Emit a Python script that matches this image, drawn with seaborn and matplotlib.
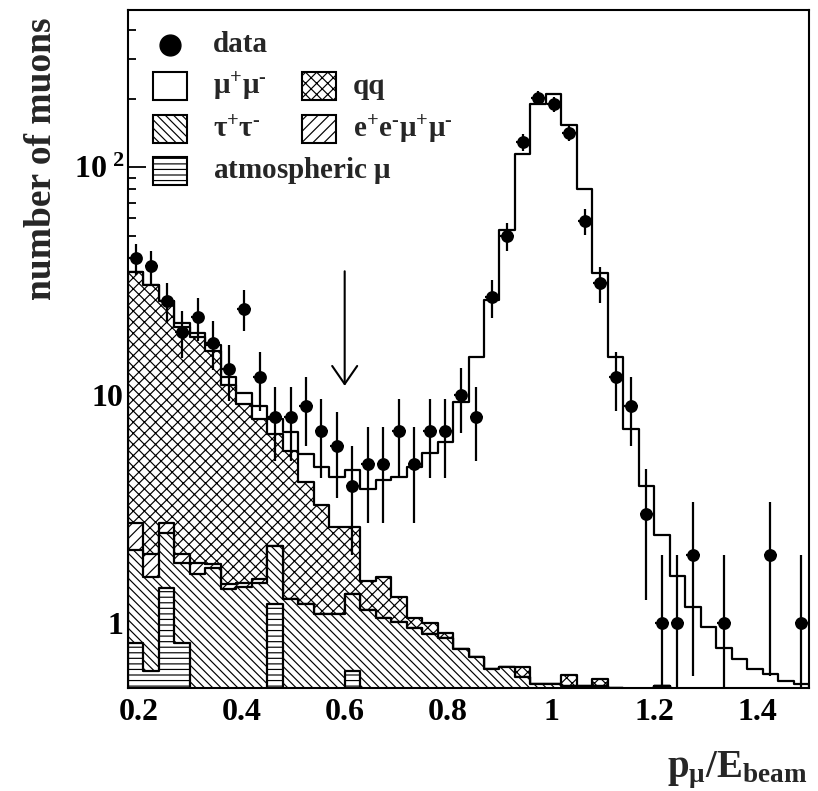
import numpy as np
import pandas as pd
import matplotlib
matplotlib.use("Agg")
import matplotlib.pyplot as plt
import seaborn as sns
from matplotlib.patches import Rectangle
from matplotlib.ticker import LogLocator, MultipleLocator, NullFormatter, FixedLocator

# ---------------- data ----------------
x_min, x_max, bin_w = 0.18, 1.50, 0.03
bin_centers = np.round(np.linspace(0.195, 1.485, 44), 3)

data_counts = [40, 37, 26, 19, 22, 17, 13, 24, 12, 8,
               8, 9, 7, 6, 4, 5, 5, 7, 5, 7,
               7, 10, 8, 27, 50, 129, 202, 189, 142, 58,
               31, 12, 9, 3, 1, 1, 2, 0, 1, 0,
               0, 2, 0, 1]

atmospheric = [0.82, 0.62, 1.43, 0.82, 0, 0, 0, 0, 0, 1.22,
               0, 0, 0, 0, 0.62, 0, 0, 0, 0, 0,
               0, 0, 0, 0, 0, 0, 0, 0, 0, 0,
               0, 0, 0, 0, 0.53, 0, 0, 0, 0, 0,
               0, 0, 0, 0]

tautau = [1.28, 0.98, 1.06, 1.01, 1.64, 1.74, 1.41, 1.44, 1.50, 0.96,
          1.28, 1.21, 1.10, 1.10, 0.73, 1.14, 1.05, 1.01, 0.95, 0.90,
          0.86, 0.77, 0.71, 0.63, 0.64, 0.58, 0.54, 0.54, 0.53, 0.53,
          0.53, 0.52, 0, 0, 0, 0, 0, 0, 0, 0,
          0, 0, 0, 0]

eemumu = [0.64, 0.42, 0.25, 0.18, 0.19, 0.08, 0.08, 0.06, 0.07, 0,
          0, 0, 0, 0, 0, 0, 0, 0, 0, 0,
          0, 0, 0, 0, 0, 0, 0, 0, 0, 0,
          0, 0, 0, 0, 0, 0, 0, 0, 0, 0,
          0, 0, 0, 0]

qq = [32.0, 28.4, 23.1, 17.9, 16.1, 13.9, 9.6, 7.7, 6.3, 4.6,
      4.4, 2.95, 2.19, 1.54, 1.29, 0.40, 0.55, 0.29, 0.10, 0.10,
      0.05, 0, 0, 0, 0, 0.06, 0, 0, 0.06, 0,
      0.04, 0, 0, 0, 0, 0, 0, 0, 0, 0,
      0, 0, 0, 0]

mumu = [0, 0, 0, 0.8, 0.8, 0.9, 0.9, 1.0, 1.1, 1.1,
        1.25, 1.34, 1.56, 1.76, 2.06, 2.36, 2.64, 3.06, 3.8, 4.6,
        5.33, 8.58, 14.0, 25.5, 52.3, 113.4, 189.5, 208.5, 153.4, 80.2,
        33.8, 14.2, 7.14, 3.99, 1.90, 1.61, 1.18, 0.96, 0.78, 0.70,
        0.63, 0.60, 0.56, 0.54]

x_ticks = [0.2, 0.4, 0.6, 0.8, 1.0, 1.2, 1.4]
x_tick_labels = ["0.2", "0.4", "0.6", "0.8", "1", "1.2", "1.4"]
y_ticks = [1, 10, 100]
y_tick_labels = ["1", "10", r"$\mathbf{10}^{\ \mathbf{2}}$"]

# ---------------- style ----------------
sns.set_theme(style="ticks")
plt.rcParams.update({
    "font.family": ["Liberation Serif", "DejaVu Serif"],
    "font.weight": "bold",
    "mathtext.fontset": "custom",
    "mathtext.rm": "Liberation Serif",
    "mathtext.bf": "Liberation Serif:bold",
    "mathtext.it": "Liberation Serif:italic",
    "hatch.linewidth": 0.85,
    "hatch.color": "black",
    "axes.linewidth": 1.5,
    "axes.edgecolor": "black",
})

W, H = 818, 791
L, R, T, B = 128, 809, 10, 688
fig = plt.figure(figsize=(W / 100, H / 100), dpi=100)
ax = fig.add_axes([L / W, 1 - B / H, (R - L) / W, (B - T) / H])

# stacked cumulative layers (bottom to top)
c_atm = np.array(atmospheric)
c_tau = c_atm + np.array(tautau)
c_ee = c_tau + np.array(eemumu)
c_qq = c_ee + np.array(qq)
c_tot = c_qq + np.array(mumu)

layers = [(c_tot, None), (c_qq, "xxx"), (c_ee, "///"),
          (c_tau, "\\\\\\\\"), (c_atm, "---")]
for vals, hatch in layers:
    df = pd.DataFrame({"x": bin_centers, "w": vals})
    sns.histplot(data=df, x="x", weights="w", binwidth=bin_w,
                 binrange=(x_min, x_max), element="step",
                 fill=True, color="white", edgecolor="black", linewidth=1.6,
                 alpha=1, ax=ax)
    coll = ax.collections[-1]
    if hatch:
        coll.set_hatch(hatch)

ax.set_yscale("log")

# data points
dc = np.array(data_counts, dtype=float)
mask = dc > 0
ax.errorbar(bin_centers[mask], dc[mask], yerr=np.sqrt(dc[mask]), xerr=0.013,
            fmt="none", ecolor="black", elinewidth=1.6, zorder=4)
sns.scatterplot(x=bin_centers[mask], y=dc[mask], color="black", s=85,
                edgecolor="black", linewidth=0, zorder=5, ax=ax, legend=False)

# arrow at cut
ax.annotate("", xy=(0.6, 11.0), xytext=(0.6, 35.0),
            arrowprops=dict(arrowstyle="->,head_length=0.65,head_width=0.45",
                            lw=1.5, color="black", mutation_scale=20,
                            shrinkA=0, shrinkB=0))

# axes
ax.set_xlim(x_min, x_max)
ax.set_ylim(0.52, 490)
ax.xaxis.set_major_locator(FixedLocator(x_ticks))
ax.set_xticklabels(x_tick_labels)
ax.xaxis.set_minor_locator(MultipleLocator(0.05))
ax.yaxis.set_major_locator(FixedLocator(y_ticks))
ax.set_yticklabels(y_tick_labels)
ax.yaxis.set_minor_locator(LogLocator(base=10, subs=np.arange(2, 10)))
ax.yaxis.set_minor_formatter(NullFormatter())
ax.tick_params(axis="both", which="both", direction="in", top=False, right=False,
               colors="black", width=1.3)
ax.tick_params(axis="x", which="major", length=11, labelsize=23, pad=7)
ax.tick_params(axis="y", which="major", length=13, labelsize=23, pad=3)
ax.tick_params(axis="both", which="minor", length=6)
for lab in ax.get_xticklabels() + ax.get_yticklabels():
    lab.set_fontweight("bold")
for s in ax.spines.values():
    s.set_linewidth(1.5)
    s.set_color("black")

ax.set_ylabel("number of muons", fontsize=27, fontweight="bold", loc="top")
ax.yaxis.set_label_coords((59 - L) / (R - L), (B - 18) / (B - T))
ax.set_xlabel(r"$\mathbf{p}_{\mathrm{\mu}}\mathbf{/E}_{\mathbf{beam}}$",
              fontsize=28, loc="right")
ax.xaxis.set_label_coords((807 - L) / (R - L), (B - 750) / (B - T))


# legend (drawn by hand to match layout)
def ax_xy(px, py):
    return (px - L) / (R - L), (B - py) / (B - T)


fs = 21
hy = "\u2010"
mx, my = ax_xy(170, 45)
ax.plot([mx], [my], "o", color="black", ms=15, transform=ax.transAxes,
        clip_on=False, zorder=6)
tx, ty = ax_xy(213, 45)
ax.text(tx, ty, "data", transform=ax.transAxes, fontsize=fs,
        fontweight="bold", va="center", ha="left")

entries = [
    (153, 86, 213, None, r"$\mathrm{\mu}^{+}\mathrm{\mu}^{" + hy + "}$"),
    (302, 86, 353, "xxx", "qq"),
    (153, 129, 213, "\\\\\\\\", r"$\mathrm{\tau}^{+}\mathrm{\tau}^{" + hy + "}$"),
    (302, 129, 353, "///",
     r"$\mathbf{e}^{+}\mathbf{e}^{" + hy + r"}\mathrm{\mu}^{+}\mathrm{\mu}^{" + hy + "}$"),
    (153, 171, 213, "---", r"atmospheric $\mathrm{\mu}$"),
]
bw, bh = 34, 28
for px, py, tpx, hatch, label in entries:
    x0, y0 = ax_xy(px, py + bh / 2)
    rect = Rectangle((x0, y0), bw / (R - L), bh / (B - T), transform=ax.transAxes,
                     facecolor="white", edgecolor="black", linewidth=1.5,
                     hatch=hatch, zorder=6)
    ax.add_patch(rect)
    lx, ly = ax_xy(tpx, py)
    ax.text(lx, ly, label, transform=ax.transAxes, fontsize=fs,
            fontweight="bold", va="center", ha="left")

fig.savefig("out.png", dpi=100)
